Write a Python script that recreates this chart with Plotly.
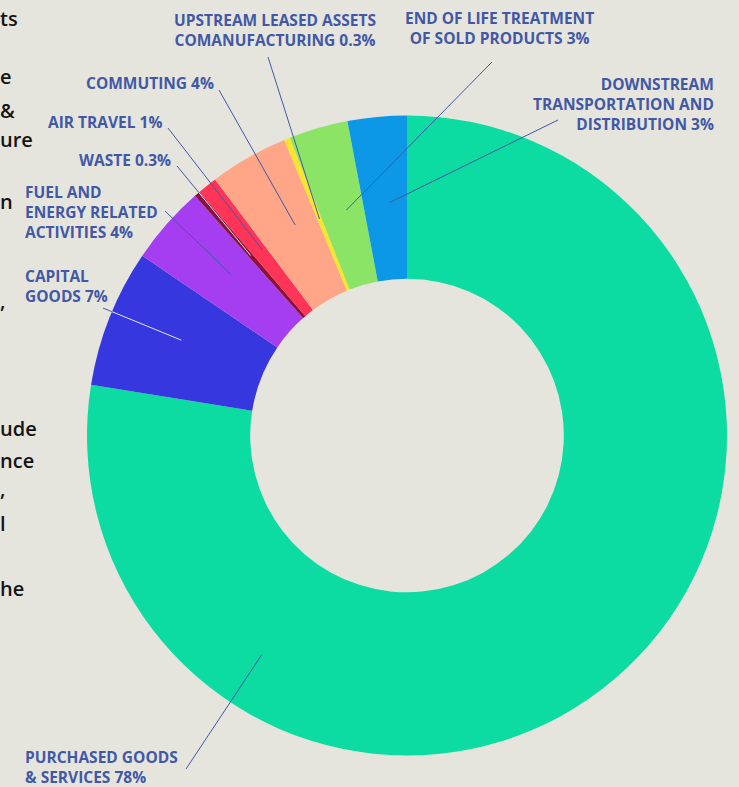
import math
import plotly.graph_objects as go

# ---------------- data ----------------
categories = [
    "Purchased goods & services",
    "Capital goods",
    "Fuel and energy related activities",
    "Waste",
    "Air travel",
    "Commuting",
    "Upstream leased assets comanufacturing",
    "End of life treatment of sold products",
    "Downstream transportation and distribution",
]
values = [78, 7, 4, 0.3, 1, 4, 0.3, 3, 3]
label_texts = [
    "PURCHASED GOODS<br>& SERVICES 78%",
    "CAPITAL<br>GOODS 7%",
    "FUEL AND<br>ENERGY RELATED<br>ACTIVITIES 4%",
    "WASTE 0.3%",
    "AIR TRAVEL 1%",
    "COMMUTING 4%",
    "UPSTREAM LEASED ASSETS<br>COMANUFACTURING 0.3%",
    "END OF LIFE TREATMENT<br>OF SOLD PRODUCTS 3%",
    "DOWNSTREAM<br>TRANSPORTATION AND<br>DISTRIBUTION 3%",
]
colors = ["#0CDCA2", "#3637DE", "#A53DF1", "#8C1039", "#FF3457",
          "#FFA588", "#FBE52C", "#8BE466", "#0C98E6"]

# clipped body-text fragments at the left edge of the page
side_texts = ["ts", "e", "&", "ure", "n", ",", "ude", "nce", ",", "l", "he"]

# ---------------- layout constants ----------------
W, H = 739, 787
CX, CY, R = 407, 435.5, 320     # pie centre / outer radius in px
HOLE = 0.49
BG = "#E6E5DD"
LABEL_COLOR = "#4158A6"

def px2paper(x, y):
    return x / W, 1 - y / H

# label placement: (x px, block-centre y px, xanchor, align)
label_pos = [
    (24, 767, "left", "left"),
    (24, 285.5, "left", "left"),
    (24, 212, "left", "left"),
    (172, 160, "right", "right"),
    (163, 121.7, "right", "right"),
    (215, 82.7, "right", "right"),
    (275, 30, "center", "center"),
    (499, 28.5, "center", "center"),
    (715, 103.7, "right", "right"),
]
# leader-line start (px) near the labels
leader_start = [
    (186, 769), (103, 308), (165, 211), (177, 166), (168, 128),
    (219, 90), (268, 57), (492, 62), (558, 120),
]
# where inside each slice the leader ends: (fraction of slice angle, fraction of ring depth)
leader_anchor = [
    (0.765, 0.65), (0.55, 0.54), (0.58, 0.5), (0.5, 0.5), (0.7, 0.48),
    (0.62, 0.5), (0.5, 0.47), (0.6, 0.47), (0.6, 0.47),
]
light_inside = [False, True, False, True, False, False, False, False, False]

fig = go.Figure()
fig.add_trace(go.Pie(
    labels=categories,
    values=values,
    hole=HOLE,
    sort=False,
    direction="clockwise",
    rotation=0,
    textinfo="none",
    hoverinfo="label+value",
    marker=dict(colors=colors, line=dict(width=0)),
    domain=dict(x=[(CX - R) / W, (CX + R) / W],
                y=[1 - (CY + R) / H, 1 - (CY - R) / H]),
    showlegend=False,
))

total = sum(values)
cum = 0.0
shapes = []
annotations = []
r_in = R * HOLE
for i, v in enumerate(values):
    a0 = cum / total * 360
    a1 = (cum + v) / total * 360
    cum += v
    fa, fr = leader_anchor[i]
    ang = math.radians(a0 + (a1 - a0) * fa)
    rr = r_in + (R - r_in) * fr
    ex, ey = CX + rr * math.sin(ang), CY - rr * math.cos(ang)
    sx, sy = leader_start[i]
    if light_inside[i]:
        dx, dy = ex - sx, ey - sy
        fx, fy = sx - CX, sy - CY
        a = dx * dx + dy * dy
        b = 2 * (fx * dx + fy * dy)
        c = fx * fx + fy * fy - R * R
        t = (-b - math.sqrt(max(b * b - 4 * a * c, 0))) / (2 * a)
        mx, my = sx + dx * t, sy + dy * t
        segs = [((sx, sy), (mx, my), LABEL_COLOR), ((mx, my), (ex, ey), "#E4E6F4")]
    else:
        segs = [((sx, sy), (ex, ey), LABEL_COLOR)]
    for (p0, p1, col) in segs:
        x0, y0 = px2paper(*p0)
        x1, y1 = px2paper(*p1)
        shapes.append(dict(type="line", xref="paper", yref="paper",
                           x0=x0, y0=y0, x1=x1, y1=y1,
                           line=dict(color=col, width=1)))
    lx, ly, xa, al = label_pos[i]
    px_, py_ = px2paper(lx, ly)
    annotations.append(dict(
        text=label_texts[i], x=px_, y=py_, xref="paper", yref="paper",
        xanchor=xa, yanchor="middle", align=al, showarrow=False,
        borderpad=0,
        font=dict(family="Open Sans", size=15.5, color=LABEL_COLOR, weight=700),
    ))

# body-text fragments (centre y px), flush with the left edge
side_y = [18, 77, 110, 140, 201, 300, 428, 460, 488, 523, 588]
for t, y in zip(side_texts, side_y):
    px_, py_ = px2paper(0, y)
    annotations.append(dict(
        text=t, x=px_, y=py_, xref="paper", yref="paper",
        xanchor="left", yanchor="middle", showarrow=False,
        borderpad=0, xshift=-1,
        font=dict(family="Open Sans", size=20, color="#151515", weight=600),
    ))

fig.update_layout(
    width=W, height=H,
    margin=dict(l=0, r=0, t=0, b=0),
    paper_bgcolor=BG, plot_bgcolor=BG,
    shapes=shapes, annotations=annotations,
)
fig.write_html("out.html")
